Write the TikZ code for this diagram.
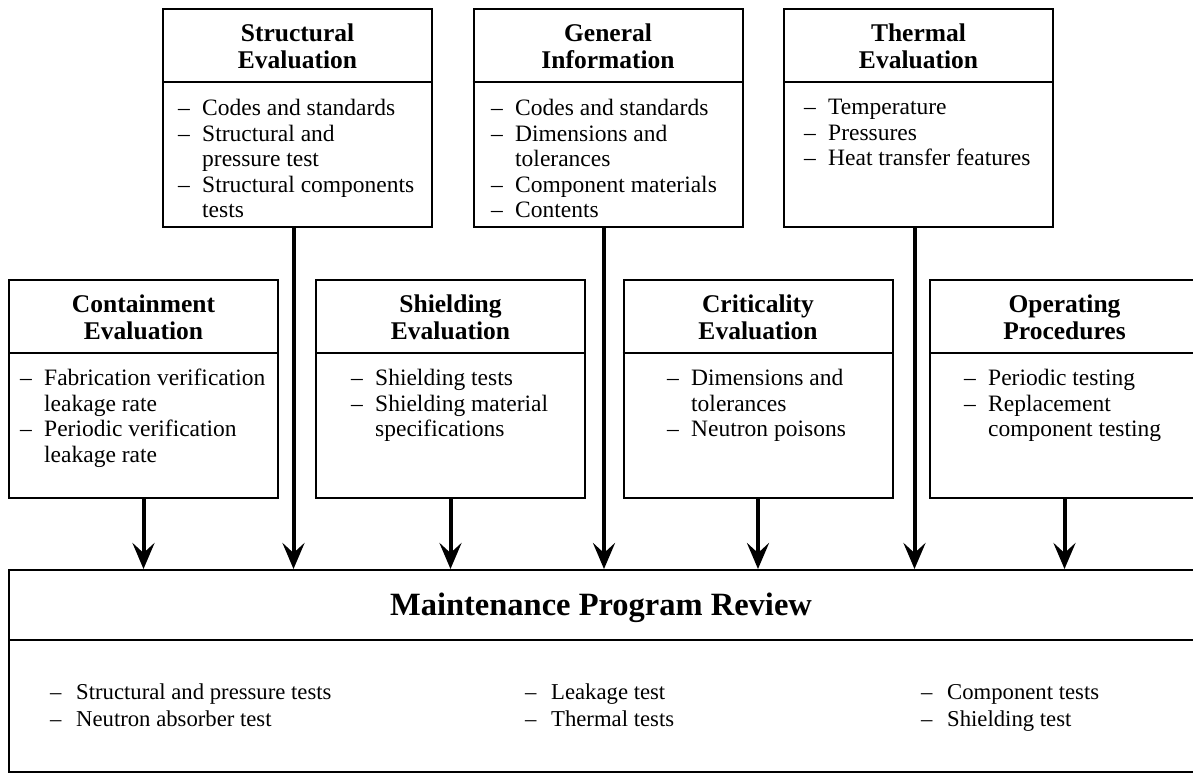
\documentclass[tikz,border=0pt]{standalone}
\usepackage{fontspec}
\setmainfont{Liberation Serif}
\usetikzlibrary{arrows.meta}
% dash of a list entry, and the indent of its continuation lines
\newcommand\lidash[1][24pt]{\makebox[#1][l]{--}}
\newcommand\licont[1][24pt]{\hspace*{#1}}
\begin{document}
\begin{tikzpicture}[x=1pt,y=-1pt,
  panel/.style={draw, line width=2pt, inner sep=0pt, minimum width=269pt, minimum height=218pt},
  headtext/.style={font=\fontsize{25.5}{27}\selectfont\bfseries, align=center, inner sep=0pt},
  listtext/.style={font=\fontsize{23.5}{25.5}\selectfont, align=left, anchor=north west, inner sep=0pt},
  sumtext/.style={font=\fontsize{22.7}{27}\selectfont, align=left, anchor=north west, inner sep=0pt},
  rule/.style={line width=2pt},
  feed/.style={line width=4pt, -{Stealth[length=26pt,width=22pt,inset=10pt]}}]
\useasboundingbox (0,0) rectangle (1193,774);
\clip (0,0) rectangle (1193,774);

% upper row
\node[panel] (struct)  at (297.5,118) {};
\node[panel] (general) at (608,118) {};
\node[panel] (thermal) at (918.5,118) {};
% middle row
\node[panel] (contain)  at (143.5,389) {};
\node[panel] (shield)   at (450.5,389) {};
\node[panel] (critical) at (758,389) {};
\node[panel] (operate)  at (1064.5,389) {};
% review box
\node[draw, line width=2pt, inner sep=0pt, minimum width=1191pt, minimum height=202pt] (review) at (604.5,671) {};

% header dividers
\foreach \b in {struct,general,thermal,contain,shield,critical,operate}
  \draw[rule] ([yshift=-74pt]\b.north west) -- ([yshift=-74pt]\b.north east);
\draw[rule] ([yshift=-71pt]review.north west) -- ([yshift=-71pt]review.north east);

% headers
\node[headtext] (structH)   at ([yshift=-38pt]struct.north)   {Structural\\Evaluation};
\node[headtext] (generalH)  at ([yshift=-38pt]general.north)  {General\\Information};
\node[headtext] (thermalH)  at ([yshift=-38pt]thermal.north)  {Thermal\\Evaluation};
\node[headtext] (containH)  at ([yshift=-38pt]contain.north)  {Containment\\Evaluation};
\node[headtext] (shieldH)   at ([yshift=-38pt]shield.north)   {Shielding\\Evaluation};
\node[headtext] (criticalH) at ([yshift=-38pt]critical.north) {Criticality\\Evaluation};
\node[headtext] (operateH)  at ([yshift=-38pt]operate.north)  {Operating\\Procedures};

% item lists
\node[listtext] (structL) at (178,99) {\lidash Codes and standards\\
  \lidash Structural and\\ \licont pressure test\\
  \lidash Structural components\\ \licont tests};
\node[listtext] (generalL) at (491,99) {\lidash Codes and standards\\
  \lidash Dimensions and\\ \licont tolerances\\
  \lidash Component materials\\
  \lidash Contents};
\node[listtext] (thermalL) at (804,99) {\lidash Temperature\\
  \lidash Pressures\\
  \lidash Heat transfer features};
\node[listtext] (containL) at (20,369) {\lidash Fabrication verification\\
  \licont leakage rate\\
  \lidash Periodic verification\\ \licont leakage rate};
\node[listtext] (shieldL) at (351,369) {\lidash Shielding tests\\
  \lidash Shielding material\\ \licont specifications};
\node[listtext] (criticalL) at (667,369) {\lidash Dimensions and\\
  \licont tolerances\\
  \lidash Neutron poisons};
\node[listtext] (operateL) at (964,369) {\lidash Periodic testing\\
  \lidash Replacement\\ \licont component testing};

% review contents
\node[font=\fontsize{32.5}{35}\selectfont\bfseries, anchor=base, inner sep=0pt] (reviewH) at (601,615) {Maintenance Program Review};
\node[sumtext] (sumA) at (50,684) {\lidash[26pt]Structural and pressure tests\\ \lidash[26pt]Neutron absorber test};
\node[sumtext] (sumB) at (525,684) {\lidash[26pt]Leakage test\\ \lidash[26pt]Thermal tests};
\node[sumtext] (sumC) at (921,684) {\lidash[26pt]Component tests\\ \lidash[26pt]Shielding test};

% feeds into the review: upper row runs past the middle row
\foreach \b in {struct,general,thermal}
  \draw[feed] ([xshift=-4pt]\b.south) -- ([xshift=-4pt]\b.south |- review.north);
\foreach \b in {contain,shield,critical,operate}
  \draw[feed] (\b.south) -- (\b.south |- review.north);
\end{tikzpicture}
\end{document}
